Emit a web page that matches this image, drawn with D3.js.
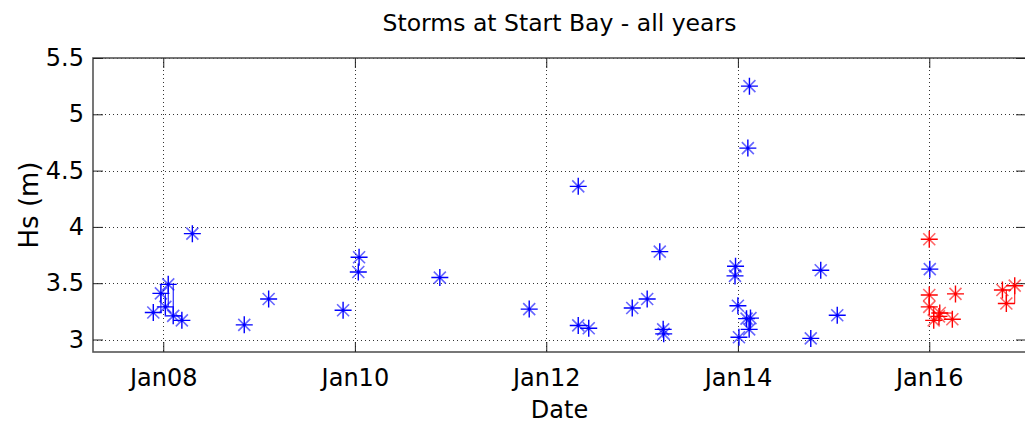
<!DOCTYPE html>
<html>
<head>
<meta charset="utf-8">
<script src="https://cdn.jsdelivr.net/npm/d3@7"></script>
<style>
  html, body { margin: 0; padding: 0; background: #fff; }
  svg { display: block; }
  text { font-family: "DejaVu Sans", sans-serif; fill: #000; }
</style>
</head>
<body>
<svg id="chart" width="1025" height="426"></svg>
<script>
// Storm peaks (significant wave height, m) at Start Bay
const blueDates = [
  "2007-11-24", "2007-12-23", "2008-01-09", "2008-01-20", "2008-02-08", "2008-03-12",
  "2008-04-21", "2008-11-05", "2009-02-06", "2009-11-17", "2010-01-14", "2010-01-17",
  "2010-11-21", "2011-10-28", "2012-05-02", "2012-05-02", "2012-06-11", "2012-11-24",
  "2013-01-20", "2013-03-09", "2013-03-22", "2013-03-24", "2013-12-21", "2013-12-23",
  "2014-01-01", "2014-01-05", "2014-02-03", "2014-02-13", "2014-02-18", "2014-02-08",
  "2014-02-14", "2014-10-06", "2014-11-13", "2015-01-15", "2016-01-03"
];
const blueHs = [
  3.24, 3.41, 3.29, 3.49, 3.21, 3.17,
  3.94, 3.13, 3.36, 3.26, 3.60, 3.73,
  3.55, 3.27, 4.36, 3.125, 3.10, 3.28,
  3.36, 3.78, 3.09, 3.05, 3.565, 3.65,
  3.30, 3.02, 3.185, 3.09, 3.19, 4.70,
  5.25, 3.01, 3.615, 3.215, 3.625
];
// storm sequence id (0 = isolated event)
const blueSeq = [
  1, 1, 1, 1, 1, 1,
  0, 0, 0, 0, 0, 0,
  0, 0, 0, 2, 2, 0,
  0, 0, 0, 0, 3, 3,
  0, 0, 4, 4, 4, 0,
  0, 0, 0, 0, 0
];

const redDates = [
  "2016-01-01", "2016-01-01", "2016-01-01", "2016-01-18", "2016-02-07", "2016-02-10",
  "2016-03-29", "2016-04-10", "2016-10-06", "2016-10-21", "2016-11-22"
];
const redHs = [3.89, 3.395, 3.29, 3.17, 3.205, 3.235, 3.18, 3.405, 3.44, 3.32, 3.478];
const redSeq = [0, 1, 1, 1, 1, 1, 1, 0, 2, 2, 2];

const xTickDates = ["2008-01-01", "2010-01-01", "2012-01-01", "2014-01-01", "2016-01-01"];
const xTickLabels = ["Jan08", "Jan10", "Jan12", "Jan14", "Jan16"];
const yTicks = [3, 3.5, 4, 4.5, 5, 5.5];

const parse = d3.utcParse("%Y-%m-%d");

const svg = d3.select("#chart");
const W = 1025, H = 426;
const plot = { left: 93, right: 1026, top: 58, bottom: 352 };

svg.append("rect").attr("width", W).attr("height", H).attr("fill", "#fff");

const x = d3.scaleUtc()
  .domain([parse("2007-04-08"), parse("2017-01-04")])
  .range([plot.left, plot.right]);
const y = d3.scaleLinear()
  .domain([2.889, 5.5])
  .range([plot.bottom, plot.top]);

const tickDates = xTickDates.map(parse);

// dotted grid
const grid = svg.append("g").attr("stroke", "#333").attr("stroke-width", 1)
  .attr("stroke-dasharray", "1,3").attr("fill", "none");
grid.selectAll("line.gx").data(tickDates).join("line")
  .attr("x1", d => Math.round(x(d)) + 0.5).attr("x2", d => Math.round(x(d)) + 0.5)
  .attr("y1", plot.top).attr("y2", plot.bottom);
grid.selectAll("line.gy").data(yTicks).join("line")
  .attr("y1", d => Math.round(y(d)) + 0.5).attr("y2", d => Math.round(y(d)) + 0.5)
  .attr("x1", plot.left).attr("x2", plot.right);

// frame
svg.append("rect")
  .attr("x", plot.left).attr("y", plot.top)
  .attr("width", plot.right - plot.left).attr("height", plot.bottom - plot.top)
  .attr("fill", "none").attr("stroke", "#555").attr("stroke-width", 1.6);

// axes with inward ticks (labels drawn by d3.axis)
const tickLen = 10;
const xAxis = d3.axisBottom(x).tickValues(tickDates)
  .tickFormat((d, i) => xTickLabels[i]).tickSizeInner(-tickLen).tickSizeOuter(0).tickPadding(20);
const gx = svg.append("g").attr("transform", `translate(0,${plot.bottom})`).call(xAxis);
gx.select(".domain").remove();
gx.selectAll("line").attr("stroke", "#222");
gx.selectAll("text").attr("font-size", 24).attr("dy", "0.71em").attr("y", 17);

const xAxisTop = d3.axisTop(x).tickValues(tickDates).tickFormat("").tickSizeInner(-tickLen).tickSizeOuter(0);
const gxt = svg.append("g").attr("transform", `translate(0,${plot.top})`).call(xAxisTop);
gxt.select(".domain").remove();
gxt.selectAll("line").attr("stroke", "#222");

const yAxis = d3.axisLeft(y).tickValues(yTicks).tickFormat(d3.format("")).tickSizeInner(-tickLen).tickSizeOuter(0).tickPadding(9);
const gy = svg.append("g").attr("transform", `translate(${plot.left},0)`).call(yAxis);
gy.select(".domain").remove();
gy.selectAll("line").attr("stroke", "#222");
gy.selectAll("text").attr("font-size", 24);

const yAxisRight = d3.axisRight(y).tickValues(yTicks).tickFormat("").tickSizeInner(-tickLen).tickSizeOuter(0);
const gyr = svg.append("g").attr("transform", `translate(${plot.right},0)`).call(yAxisRight);
gyr.select(".domain").remove();
gyr.selectAll("line").attr("stroke", "#222");

// titles
svg.append("text").attr("x", (plot.left + plot.right) / 2).attr("y", 31)
  .attr("text-anchor", "middle").attr("font-size", 23.5).text("Storms at Start Bay - all years");
svg.append("text").attr("x", (plot.left + plot.right) / 2).attr("y", 418)
  .attr("text-anchor", "middle").attr("font-size", 24).text("Date");
svg.append("text")
  .attr("transform", `translate(38,${(plot.top + plot.bottom) / 2}) rotate(-90)`)
  .attr("text-anchor", "middle").attr("font-size", 26).text("Hs (m)");

// series
function drawSeries(dates, hs, seq, color) {
  const pts = dates.map((d, i) => ({ t: parse(d), v: hs[i], s: seq[i], i }));
  const g = svg.append("g");

  // step links within a storm sequence
  const groups = d3.group(pts.filter(p => p.s > 0), p => p.s);
  const line = d3.line().x(p => x(p.t)).y(p => y(p.v)).curve(d3.curveStepAfter);
  for (const [, arr] of groups) {
    const sorted = arr.slice().sort((a, b) => a.t - b.t || a.i - b.i);
    g.append("path").attr("d", line(sorted))
      .attr("fill", "none").attr("stroke", color).attr("stroke-width", 1);
  }

  const m = g.selectAll("g.mk").data(pts).join("g")
    .attr("transform", p => `translate(${x(p.t)},${y(p.v)})`);
  m.append("path").attr("d", "M-6,-6L6,6M-6,6L6,-6")
    .attr("stroke", color).attr("stroke-width", 1.6).attr("stroke-opacity", 0.6);
  m.append("path").attr("d", "M-8.5,0H8.5M0,-8.5V8.5")
    .attr("stroke", color).attr("stroke-width", 1.4);
  m.append("circle").attr("r", 1.6).attr("fill", color);
}

drawSeries(blueDates, blueHs, blueSeq, "#0000ff");
drawSeries(redDates, redHs, redSeq, "#ff0000");
</script>
</body>
</html>
